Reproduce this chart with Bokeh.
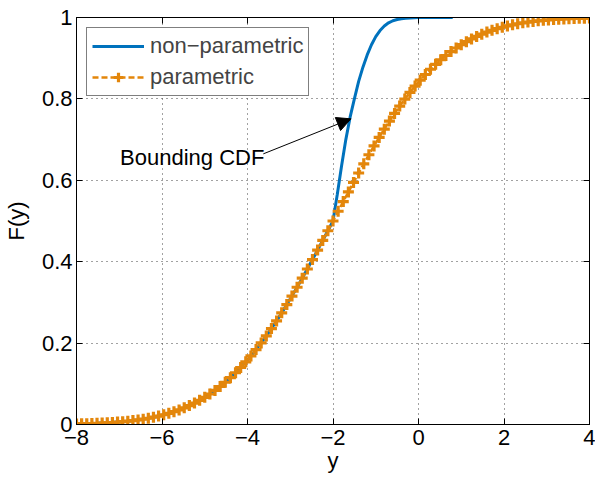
from bokeh.plotting import figure
from bokeh.models import (Range1d, FixedTicker, LinearAxis, Legend, LegendItem,
                          Arrow, NormalHead, Label)
from bokeh.embed import file_html
from bokeh.resources import INLINE

# ---- data ----
x_par = [round(-8 + 0.12 * k, 2) for k in range(101)]
F_par_low = [0.0013, 0.0016, 0.0020, 0.0024, 0.0029, 0.0035, 0.0041, 0.0049, 0.0059, 0.0069,
             0.0082, 0.0096, 0.0113, 0.0132, 0.0154, 0.0179, 0.0207, 0.0239, 0.0274, 0.0314,
             0.0359, 0.0409, 0.0465, 0.0526, 0.0594, 0.0668, 0.0749, 0.0838, 0.0934, 0.1038,
             0.1151, 0.1271, 0.1401, 0.1539, 0.1685, 0.1841, 0.2005, 0.2177, 0.2358, 0.2546,
             0.2743, 0.2946, 0.3156, 0.3372, 0.3594, 0.3821, 0.4052, 0.4286, 0.4522, 0.4761]
F_par = F_par_low + [0.5000] + [round(1 - v, 4) for v in reversed(F_par_low)]

x_np_tail = [-1.9, -1.8, -1.7, -1.6, -1.5, -1.4, -1.3, -1.2, -1.1, -1.0, -0.9, -0.8,
             -0.7, -0.6, -0.5, -0.4, -0.3, -0.2, 0.0, 0.8]
F_np_tail = [0.565, 0.635, 0.700, 0.755, 0.800, 0.843, 0.878, 0.908, 0.933, 0.953, 0.968, 0.979,
             0.987, 0.992, 0.995, 0.997, 0.998, 0.999, 1.000, 1.000]
x_np = x_par[:51] + x_np_tail
F_np = F_par[:51] + F_np_tail

x_ticks = [-8, -6, -4, -2, 0, 2, 4]
x_tick_labels = ["\u22128", "\u22126", "\u22124", "\u22122", "0", "2", "4"]
y_ticks = [0, 0.2, 0.4, 0.6, 0.8, 1]
y_tick_labels = ["0", "0.2", "0.4", "0.6", "0.8", "1"]

annot_text = "Bounding CDF"
annot_text_pos = (-6.98, 0.655)
arrow_start = (-3.63, 0.665)
arrow_end = (-1.58, 0.751)

BLUE = "#0072BD"
ORANGE = "#E3860B"
FONT = "Liberation Sans"
FS = "22px"

p = figure(width=595, height=477, output_backend="svg", toolbar_location=None,
           x_range=Range1d(-8, 4), y_range=Range1d(0, 1),
           min_border_left=73, min_border_right=6, min_border_top=17, min_border_bottom=53,
           x_axis_label="y", y_axis_label="F(y)")
p.background_fill_color = "white"
p.border_fill_color = "white"
p.outline_line_color = "black"
p.outline_line_width = 1

for ax, ticks, labels in ((p.xaxis[0], x_ticks, x_tick_labels), (p.yaxis[0], y_ticks, y_tick_labels)):
    ax.ticker = FixedTicker(ticks=ticks)
    ax.major_label_overrides = {t: l for t, l in zip(ticks, labels)}
    ax.major_tick_in = 6
    ax.major_tick_out = 0
    ax.minor_tick_line_color = None
    ax.axis_line_color = "black"
    ax.major_tick_line_color = "black"
    ax.major_label_text_font = FONT
    ax.major_label_text_font_size = FS
    ax.major_label_text_color = "black"
    ax.axis_label_text_font = FONT
    ax.axis_label_text_font_size = FS
    ax.axis_label_text_font_style = "normal"
    ax.axis_label_text_color = "black"
p.xaxis[0].axis_label_standoff = 0
p.yaxis[0].axis_label_standoff = 10
p.xaxis[0].major_label_standoff = 5
p.yaxis[0].major_label_standoff = 4

for loc, ticks in (("above", x_ticks), ("right", y_ticks)):
    ax = LinearAxis(ticker=FixedTicker(ticks=ticks), major_label_text_font_size="1px",
                    major_label_text_color=None, major_label_standoff=0,
                    major_tick_in=6, major_tick_out=0, minor_tick_line_color=None,
                    axis_line_color="black", major_tick_line_color="black")
    p.add_layout(ax, loc)

p.xgrid[0].ticker = FixedTicker(ticks=x_ticks[1:-1])
p.ygrid[0].ticker = FixedTicker(ticks=y_ticks[1:-1])
for g in (p.xgrid[0], p.ygrid[0]):
    g.grid_line_color = "#444444"
    g.grid_line_dash = "1 4"
    g.grid_line_width = 1

r_np = p.line(x_np, F_np, line_color=BLUE, line_width=3)
r_pl = p.line(x_par, F_par, line_color=ORANGE, line_width=2.5, line_dash="6 3")
r_ps = p.scatter(x_par, F_par, marker="cross", size=11, line_color=ORANGE, line_width=3.2)

legend = Legend(items=[LegendItem(label="non\u2212parametric", renderers=[r_np]),
                       LegendItem(label="parametric", renderers=[r_pl, r_ps])],
                location="top_left", margin=10, padding=5, spacing=5,
                glyph_width=52, glyph_height=24, label_standoff=6,
                label_text_font=FONT, label_text_font_size=FS,
                border_line_color="black", border_line_width=1,
                background_fill_alpha=1)
p.add_layout(legend, "center")

p.add_layout(Arrow(end=NormalHead(size=14, fill_color="black", line_color="black"),
                   x_start=arrow_start[0], y_start=arrow_start[1],
                   x_end=arrow_end[0], y_end=arrow_end[1],
                   line_color="black", line_width=1))
p.add_layout(Label(x=annot_text_pos[0], y=annot_text_pos[1], text=annot_text,
                   text_font=FONT, text_font_size=FS, text_baseline="middle",
                   text_align="left", text_color="black"))

open("out.html", "w").write(file_html(p, INLINE))
